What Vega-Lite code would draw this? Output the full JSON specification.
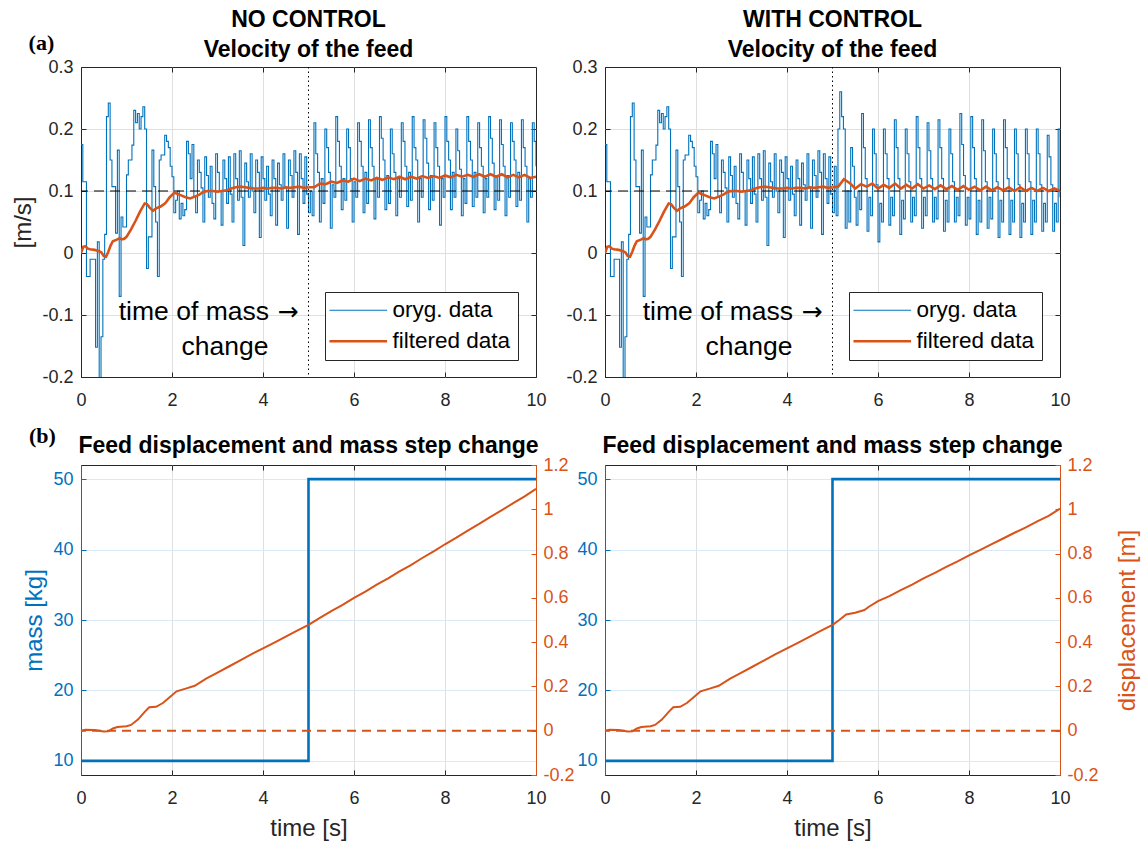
{
  "$schema": "https://vega.github.io/schema/vega-lite/v6.json",
  "background": "white",
  "padding": {"left": 10, "top": 8, "right": 4, "bottom": 4},
  "columns": 2,
  "spacing": {"row": 88, "column": 69},
  "bounds": "flush",
  "resolve": {"scale": {"x": "independent", "y": "independent", "color": "independent", "strokeWidth": "independent"}},
  "datasets": {
    "vel_raw_a": [
      {"t":0,"v":0.175},{"t":0.04,"v":0.115},{"t":0.08,"v":0.115},{"t":0.12,"v":-0.038},{"t":0.16,"v":-0.038},{"t":0.2,"v":-0.01},{"t":0.24,"v":-0.01},{"t":0.28,"v":-0.01},{"t":0.32,"v":-0.152},{"t":0.36,"v":0.018},{"t":0.4,"v":-0.21},{"t":0.44,"v":-0.135},{"t":0.48,"v":-0.01},{"t":0.52,"v":0.03},{"t":0.56,"v":0.22},{"t":0.6,"v":0.242},{"t":0.64,"v":0.15},{"t":0.68,"v":0.107},{"t":0.72,"v":0.107},{"t":0.76,"v":0.032},{"t":0.8,"v":0.166},{"t":0.84,"v":-0.07},{"t":0.88,"v":0.058},{"t":0.92,"v":0.042},{"t":0.96,"v":0.042},
      {"t":1.0,"v":0.126},{"t":1.04,"v":0.15},{"t":1.08,"v":0.15},{"t":1.12,"v":0.174},{"t":1.16,"v":0.23},{"t":1.2,"v":0.21},{"t":1.24,"v":0.225},{"t":1.28,"v":0.2},{"t":1.32,"v":0.22},{"t":1.36,"v":0.236},{"t":1.4,"v":0.2},{"t":1.44,"v":-0.025},{"t":1.48,"v":0.026},{"t":1.52,"v":0.026},{"t":1.56,"v":0.166},{"t":1.6,"v":0.107},{"t":1.64,"v":0.05},{"t":1.68,"v":-0.038},{"t":1.72,"v":0.15},{"t":1.76,"v":0.158},{"t":1.8,"v":0.158},{"t":1.84,"v":0.19},{"t":1.88,"v":0.18},{"t":1.92,"v":0.17},{"t":1.96,"v":0.14},
      {"t":2.0,"v":0.123},{"t":2.04,"v":0.065},{"t":2.08,"v":0.085},{"t":2.12,"v":0.1},{"t":2.16,"v":0.055},{"t":2.2,"v":0.08},{"t":2.24,"v":0.06},{"t":2.28,"v":0.07},{"t":2.32,"v":0.18},{"t":2.36,"v":0.16},{"t":2.4,"v":0.12},{"t":2.44,"v":0.175},{"t":2.48,"v":0.09},{"t":2.52,"v":0.065},{"t":2.56,"v":0.15},{"t":2.6,"v":0.13},{"t":2.64,"v":0.105},{"t":2.68,"v":0.05},{"t":2.72,"v":0.155},{"t":2.76,"v":0.125},{"t":2.8,"v":0.09},{"t":2.84,"v":0.14},{"t":2.88,"v":0.08},{"t":2.92,"v":0.055},{"t":2.96,"v":0.16},
      {"t":3.0,"v":0.13},{"t":3.04,"v":0.1},{"t":3.08,"v":0.045},{"t":3.12,"v":0.15},{"t":3.16,"v":0.12},{"t":3.2,"v":0.08},{"t":3.24,"v":0.155},{"t":3.28,"v":0.095},{"t":3.32,"v":0.05},{"t":3.36,"v":0.16},{"t":3.4,"v":0.12},{"t":3.44,"v":0.085},{"t":3.48,"v":0.165},{"t":3.52,"v":0.09},{"t":3.56,"v":0.012},{"t":3.6,"v":0.145},{"t":3.64,"v":0.115},{"t":3.68,"v":0.09},{"t":3.72,"v":0.16},{"t":3.76,"v":0.1},{"t":3.8,"v":0.065},{"t":3.84,"v":0.15},{"t":3.88,"v":0.13},{"t":3.92,"v":0.025},{"t":3.96,"v":0.155},
      {"t":4.0,"v":0.12},{"t":4.04,"v":0.085},{"t":4.08,"v":0.14},{"t":4.12,"v":0.095},{"t":4.16,"v":0.06},{"t":4.2,"v":0.15},{"t":4.24,"v":0.12},{"t":4.28,"v":0.045},{"t":4.32,"v":0.145},{"t":4.36,"v":0.11},{"t":4.4,"v":0.085},{"t":4.44,"v":0.16},{"t":4.48,"v":0.105},{"t":4.52,"v":0.04},{"t":4.56,"v":0.15},{"t":4.6,"v":0.125},{"t":4.64,"v":0.09},{"t":4.68,"v":0.165},{"t":4.72,"v":0.13},{"t":4.76,"v":0.03},{"t":4.8,"v":0.16},{"t":4.84,"v":0.12},{"t":4.88,"v":0.08},{"t":4.92,"v":0.155},{"t":4.96,"v":0.095},{"t":5.0,"v":0.065}
    ],
    "vel_raw_nc": [
      {"t":5.0,"v":0.065},{"t":5.04,"v":0.1},{"t":5.08,"v":0.06},{"t":5.12,"v":0.21},{"t":5.16,"v":0.16},{"t":5.2,"v":0.13},{"t":5.24,"v":0.05},{"t":5.28,"v":0.12},{"t":5.32,"v":0.08},{"t":5.36,"v":0.2},{"t":5.4,"v":0.17},{"t":5.44,"v":0.13},{"t":5.48,"v":0.04},{"t":5.52,"v":0.11},{"t":5.56,"v":0.09},{"t":5.6,"v":0.22},{"t":5.64,"v":0.18},{"t":5.68,"v":0.14},{"t":5.72,"v":0.07},{"t":5.76,"v":0.12},{"t":5.8,"v":0.085},{"t":5.84,"v":0.2},{"t":5.88,"v":0.17},{"t":5.92,"v":0.12},{"t":5.96,"v":0.05},
      {"t":6.0,"v":0.115},{"t":6.04,"v":0.09},{"t":6.08,"v":0.21},{"t":6.12,"v":0.18},{"t":6.16,"v":0.14},{"t":6.2,"v":0.065},{"t":6.24,"v":0.13},{"t":6.28,"v":0.08},{"t":6.32,"v":0.215},{"t":6.36,"v":0.17},{"t":6.4,"v":0.14},{"t":6.44,"v":0.055},{"t":6.48,"v":0.12},{"t":6.52,"v":0.09},{"t":6.56,"v":0.22},{"t":6.6,"v":0.185},{"t":6.64,"v":0.15},{"t":6.68,"v":0.07},{"t":6.72,"v":0.125},{"t":6.76,"v":0.08},{"t":6.8,"v":0.2},{"t":6.84,"v":0.16},{"t":6.88,"v":0.13},{"t":6.92,"v":0.06},{"t":6.96,"v":0.12},
      {"t":7.0,"v":0.09},{"t":7.04,"v":0.21},{"t":7.08,"v":0.18},{"t":7.12,"v":0.14},{"t":7.16,"v":0.075},{"t":7.2,"v":0.13},{"t":7.24,"v":0.085},{"t":7.28,"v":0.22},{"t":7.32,"v":0.17},{"t":7.36,"v":0.15},{"t":7.4,"v":0.05},{"t":7.44,"v":0.12},{"t":7.48,"v":0.09},{"t":7.52,"v":0.215},{"t":7.56,"v":0.185},{"t":7.6,"v":0.145},{"t":7.64,"v":0.07},{"t":7.68,"v":0.125},{"t":7.72,"v":0.085},{"t":7.76,"v":0.21},{"t":7.8,"v":0.17},{"t":7.84,"v":0.14},{"t":7.88,"v":0.045},{"t":7.92,"v":0.12},{"t":7.96,"v":0.09},
      {"t":8.0,"v":0.22},{"t":8.04,"v":0.18},{"t":8.08,"v":0.15},{"t":8.12,"v":0.07},{"t":8.16,"v":0.13},{"t":8.2,"v":0.09},{"t":8.24,"v":0.2},{"t":8.28,"v":0.165},{"t":8.32,"v":0.135},{"t":8.36,"v":0.06},{"t":8.4,"v":0.12},{"t":8.44,"v":0.08},{"t":8.48,"v":0.22},{"t":8.52,"v":0.18},{"t":8.56,"v":0.15},{"t":8.6,"v":0.075},{"t":8.64,"v":0.13},{"t":8.68,"v":0.09},{"t":8.72,"v":0.21},{"t":8.76,"v":0.17},{"t":8.8,"v":0.14},{"t":8.84,"v":0.065},{"t":8.88,"v":0.12},{"t":8.92,"v":0.09},{"t":8.96,"v":0.22},
      {"t":9.0,"v":0.185},{"t":9.04,"v":0.145},{"t":9.08,"v":0.07},{"t":9.12,"v":0.125},{"t":9.16,"v":0.085},{"t":9.2,"v":0.215},{"t":9.24,"v":0.175},{"t":9.28,"v":0.14},{"t":9.32,"v":0.06},{"t":9.36,"v":0.125},{"t":9.4,"v":0.09},{"t":9.44,"v":0.21},{"t":9.48,"v":0.18},{"t":9.52,"v":0.15},{"t":9.56,"v":0.075},{"t":9.6,"v":0.13},{"t":9.64,"v":0.085},{"t":9.68,"v":0.215},{"t":9.72,"v":0.17},{"t":9.76,"v":0.14},{"t":9.8,"v":0.05},{"t":9.84,"v":0.12},{"t":9.88,"v":0.09},{"t":9.92,"v":0.21},{"t":9.96,"v":0.18},{"t":10.0,"v":0.14}
    ],
    "vel_raw_wc": [
      {"t":5.0,"v":0.065},{"t":5.04,"v":0.14},{"t":5.08,"v":0.06},{"t":5.12,"v":0.2},{"t":5.16,"v":0.26},{"t":5.2,"v":0.22},{"t":5.24,"v":0.2},{"t":5.28,"v":0.04},{"t":5.32,"v":0.1},{"t":5.36,"v":0.05},{"t":5.4,"v":0.17},{"t":5.44,"v":0.14},{"t":5.48,"v":0.09},{"t":5.52,"v":0.045},{"t":5.56,"v":0.1},{"t":5.6,"v":0.07},{"t":5.64,"v":0.225},{"t":5.68,"v":0.17},{"t":5.72,"v":0.12},{"t":5.76,"v":0.035},{"t":5.8,"v":0.09},{"t":5.84,"v":0.06},{"t":5.88,"v":0.2},{"t":5.92,"v":0.16},{"t":5.96,"v":0.11},
      {"t":6.0,"v":0.018},{"t":6.04,"v":0.08},{"t":6.08,"v":0.05},{"t":6.12,"v":0.2},{"t":6.16,"v":0.16},{"t":6.2,"v":0.12},{"t":6.24,"v":0.045},{"t":6.28,"v":0.09},{"t":6.32,"v":0.06},{"t":6.36,"v":0.215},{"t":6.4,"v":0.17},{"t":6.44,"v":0.12},{"t":6.48,"v":0.03},{"t":6.52,"v":0.085},{"t":6.56,"v":0.055},{"t":6.6,"v":0.2},{"t":6.64,"v":0.16},{"t":6.68,"v":0.115},{"t":6.72,"v":0.05},{"t":6.76,"v":0.09},{"t":6.8,"v":0.06},{"t":6.84,"v":0.22},{"t":6.88,"v":0.17},{"t":6.92,"v":0.12},{"t":6.96,"v":0.04},
      {"t":7.0,"v":0.09},{"t":7.04,"v":0.06},{"t":7.08,"v":0.21},{"t":7.12,"v":0.165},{"t":7.16,"v":0.12},{"t":7.2,"v":0.05},{"t":7.24,"v":0.09},{"t":7.28,"v":0.055},{"t":7.32,"v":0.215},{"t":7.36,"v":0.17},{"t":7.4,"v":0.12},{"t":7.44,"v":0.035},{"t":7.48,"v":0.085},{"t":7.52,"v":0.05},{"t":7.56,"v":0.2},{"t":7.6,"v":0.16},{"t":7.64,"v":0.115},{"t":7.68,"v":0.05},{"t":7.72,"v":0.09},{"t":7.76,"v":0.06},{"t":7.8,"v":0.225},{"t":7.84,"v":0.175},{"t":7.88,"v":0.125},{"t":7.92,"v":0.045},{"t":7.96,"v":0.09},
      {"t":8.0,"v":0.055},{"t":8.04,"v":0.22},{"t":8.08,"v":0.17},{"t":8.12,"v":0.12},{"t":8.16,"v":0.03},{"t":8.2,"v":0.085},{"t":8.24,"v":0.05},{"t":8.28,"v":0.215},{"t":8.32,"v":0.165},{"t":8.36,"v":0.115},{"t":8.4,"v":0.04},{"t":8.44,"v":0.09},{"t":8.48,"v":0.055},{"t":8.52,"v":0.2},{"t":8.56,"v":0.16},{"t":8.6,"v":0.115},{"t":8.64,"v":0.025},{"t":8.68,"v":0.085},{"t":8.72,"v":0.05},{"t":8.76,"v":0.215},{"t":8.8,"v":0.17},{"t":8.84,"v":0.12},{"t":8.88,"v":0.03},{"t":8.92,"v":0.085},{"t":8.96,"v":0.05},
      {"t":9.0,"v":0.2},{"t":9.04,"v":0.16},{"t":9.08,"v":0.11},{"t":9.12,"v":0.025},{"t":9.16,"v":0.08},{"t":9.2,"v":0.05},{"t":9.24,"v":0.2},{"t":9.28,"v":0.16},{"t":9.32,"v":0.115},{"t":9.36,"v":0.03},{"t":9.4,"v":0.085},{"t":9.44,"v":0.05},{"t":9.48,"v":0.2},{"t":9.52,"v":0.16},{"t":9.56,"v":0.11},{"t":9.6,"v":0.035},{"t":9.64,"v":0.08},{"t":9.68,"v":0.05},{"t":9.72,"v":0.19},{"t":9.76,"v":0.155},{"t":9.8,"v":0.11},{"t":9.84,"v":0.035},{"t":9.88,"v":0.08},{"t":9.92,"v":0.05},{"t":9.96,"v":0.2},{"t":10.0,"v":0.09}
    ],
    "vel_filt_a": [
      {"t":0,"v":0},{"t":0.05,"v":0.01},{"t":0.1,"v":0.011},{"t":0.15,"v":0.007},{"t":0.2,"v":0.006},{"t":0.3,"v":0.005},{"t":0.4,"v":0.003},{"t":0.45,"v":0.001},{"t":0.5,"v":-0.005},{"t":0.55,"v":-0.006},{"t":0.6,"v":0.002},{"t":0.65,"v":0.012},{"t":0.7,"v":0.019},{"t":0.8,"v":0.022},{"t":0.85,"v":0.024},{"t":0.9,"v":0.022},{"t":0.95,"v":0.023},{"t":1.0,"v":0.026},{"t":1.1,"v":0.038},{"t":1.2,"v":0.052},{"t":1.3,"v":0.067},{"t":1.4,"v":0.08},{"t":1.45,"v":0.079},{"t":1.5,"v":0.074},{"t":1.58,"v":0.068},{"t":1.65,"v":0.072},{"t":1.75,"v":0.075},{"t":1.85,"v":0.08},{"t":1.95,"v":0.09},{"t":2.05,"v":0.097},{"t":2.1,"v":0.096},{"t":2.2,"v":0.093},{"t":2.3,"v":0.09},{"t":2.4,"v":0.088},{"t":2.5,"v":0.091},{"t":2.6,"v":0.094},{"t":2.7,"v":0.099},{"t":2.8,"v":0.1},{"t":2.9,"v":0.1},{"t":3.0,"v":0.099},{"t":3.1,"v":0.1},{"t":3.2,"v":0.101},{"t":3.3,"v":0.104},{"t":3.4,"v":0.106},{"t":3.5,"v":0.107},{"t":3.6,"v":0.106},{"t":3.7,"v":0.105},{"t":3.8,"v":0.104},{"t":3.9,"v":0.104},{"t":4.0,"v":0.105},{"t":4.1,"v":0.104},{"t":4.2,"v":0.105},{"t":4.3,"v":0.105},{"t":4.4,"v":0.104},{"t":4.5,"v":0.106},{"t":4.6,"v":0.105},{"t":4.7,"v":0.106},{"t":4.8,"v":0.107},{"t":4.9,"v":0.105},{"t":5.0,"v":0.106}
    ],
    "vel_filt_nc": [
      {"t":5.0,"v":0.106},{"t":5.125,"v":0.106},{"t":5.25,"v":0.112},{"t":5.375,"v":0.111},{"t":5.5,"v":0.115},{"t":5.625,"v":0.113},{"t":5.75,"v":0.117},{"t":5.875,"v":0.115},{"t":6.0,"v":0.12},{"t":6.125,"v":0.116},{"t":6.25,"v":0.12},{"t":6.375,"v":0.117},{"t":6.5,"v":0.121},{"t":6.625,"v":0.118},{"t":6.75,"v":0.122},{"t":6.875,"v":0.119},{"t":7.0,"v":0.123},{"t":7.125,"v":0.119},{"t":7.25,"v":0.123},{"t":7.375,"v":0.12},{"t":7.5,"v":0.124},{"t":7.625,"v":0.121},{"t":7.75,"v":0.124},{"t":7.875,"v":0.121},{"t":8.0,"v":0.125},{"t":8.125,"v":0.122},{"t":8.25,"v":0.126},{"t":8.375,"v":0.123},{"t":8.5,"v":0.126},{"t":8.625,"v":0.123},{"t":8.75,"v":0.127},{"t":8.875,"v":0.123},{"t":9.0,"v":0.127},{"t":9.125,"v":0.123},{"t":9.25,"v":0.127},{"t":9.375,"v":0.122},{"t":9.5,"v":0.126},{"t":9.625,"v":0.122},{"t":9.75,"v":0.126},{"t":9.875,"v":0.121},{"t":10.0,"v":0.123}
    ],
    "vel_filt_wc": [
      {"t":5.0,"v":0.106},{"t":5.125,"v":0.107},{"t":5.25,"v":0.119},{"t":5.375,"v":0.113},{"t":5.5,"v":0.104},{"t":5.625,"v":0.111},{"t":5.75,"v":0.107},{"t":5.875,"v":0.112},{"t":6.0,"v":0.104},{"t":6.125,"v":0.11},{"t":6.25,"v":0.105},{"t":6.375,"v":0.112},{"t":6.5,"v":0.104},{"t":6.625,"v":0.11},{"t":6.75,"v":0.104},{"t":6.875,"v":0.111},{"t":7.0,"v":0.104},{"t":7.125,"v":0.109},{"t":7.25,"v":0.103},{"t":7.375,"v":0.109},{"t":7.5,"v":0.103},{"t":7.625,"v":0.108},{"t":7.75,"v":0.102},{"t":7.875,"v":0.108},{"t":8.0,"v":0.102},{"t":8.125,"v":0.107},{"t":8.25,"v":0.101},{"t":8.375,"v":0.107},{"t":8.5,"v":0.101},{"t":8.625,"v":0.106},{"t":8.75,"v":0.101},{"t":8.875,"v":0.106},{"t":9.0,"v":0.1},{"t":9.125,"v":0.106},{"t":9.25,"v":0.1},{"t":9.375,"v":0.105},{"t":9.5,"v":0.1},{"t":9.625,"v":0.105},{"t":9.75,"v":0.1},{"t":9.875,"v":0.104},{"t":10.0,"v":0.1}
    ],
    "mass": [
      {"t":0,"m":10},{"t":5,"m":50},{"t":10,"m":50}
    ],
    "disp_a": [
      {"t":0,"d":0},{"t":0.1,"d":0.004},{"t":0.3,"d":0.003},{"t":0.5,"d":-0.004},{"t":0.6,"d":-0.003},{"t":0.7,"d":0.01},{"t":0.8,"d":0.017},{"t":1.0,"d":0.02},{"t":1.1,"d":0.026},{"t":1.25,"d":0.05},{"t":1.4,"d":0.085},{"t":1.5,"d":0.106},{"t":1.65,"d":0.108},{"t":1.8,"d":0.125},{"t":2.0,"d":0.16},{"t":2.1,"d":0.178},{"t":2.3,"d":0.19},{"t":2.5,"d":0.203},{"t":2.75,"d":0.235},{"t":3.0,"d":0.262},{"t":3.25,"d":0.29},{"t":3.5,"d":0.318},{"t":3.75,"d":0.346},{"t":4.0,"d":0.372},{"t":4.25,"d":0.398},{"t":4.5,"d":0.425},{"t":4.75,"d":0.452},{"t":5.0,"d":0.478}
    ],
    "disp_nc": [
      {"t":5.0,"d":0.478},{"t":5.25,"d":0.51},{"t":5.5,"d":0.54},{"t":5.75,"d":0.568},{"t":6.0,"d":0.6},{"t":6.25,"d":0.628},{"t":6.5,"d":0.66},{"t":6.75,"d":0.688},{"t":7.0,"d":0.72},{"t":7.25,"d":0.748},{"t":7.5,"d":0.78},{"t":7.75,"d":0.81},{"t":8.0,"d":0.842},{"t":8.25,"d":0.872},{"t":8.5,"d":0.904},{"t":8.75,"d":0.934},{"t":9.0,"d":0.966},{"t":9.25,"d":0.996},{"t":9.5,"d":1.028},{"t":9.75,"d":1.058},{"t":10.0,"d":1.092}
    ],
    "disp_wc": [
      {"t":5.0,"d":0.478},{"t":5.15,"d":0.5},{"t":5.3,"d":0.525},{"t":5.5,"d":0.533},{"t":5.7,"d":0.545},{"t":5.8,"d":0.56},{"t":6.0,"d":0.585},{"t":6.25,"d":0.608},{"t":6.5,"d":0.635},{"t":6.75,"d":0.66},{"t":7.0,"d":0.688},{"t":7.25,"d":0.713},{"t":7.5,"d":0.74},{"t":7.75,"d":0.765},{"t":8.0,"d":0.792},{"t":8.25,"d":0.817},{"t":8.5,"d":0.843},{"t":8.75,"d":0.868},{"t":9.0,"d":0.894},{"t":9.25,"d":0.918},{"t":9.5,"d":0.945},{"t":9.75,"d":0.97},{"t":10.0,"d":1.003}
    ]
  },
  "concat": [
    {
      "width": 455,
      "height": 310,
      "title": {"text": ["NO CONTROL", "Velocity of the feed"], "offset": -30},
      "layer": [
        {
          "data": {"name": "vel_raw_a"},
          "mark": {"type": "line", "interpolate": "step-after", "clip": true},
          "encoding": {
            "x": {"field": "t", "type": "quantitative", "scale": {"domain": [0, 10]}, "axis": {"orient": "bottom", "values": [0, 2, 4, 6, 8, 10], "title": null, "labelPadding": 19}},
            "y": {"field": "v", "type": "quantitative", "scale": {"domain": [-0.2, 0.3]}, "axis": {"orient": "left", "values": [-0.2, -0.1, 0, 0.1, 0.2, 0.3], "title": "[m/s]", "titleX": -58, "titleBaseline": "middle", "labelPadding": 13, "labelExpr": "replace(format(datum.value, '.2~f'), '\u2212', '-')"}},
            "color": {"datum": "oryg. data", "type": "nominal", "scale": {"domain": ["oryg. data", "filtered data"], "range": ["#0072BD", "#D95319"]}, "legend": {"orient": "none", "legendX": 244, "legendY": 225, "title": null, "symbolType": "M-6.4,0H6.4", "symbolSize": 81, "symbolOffset": 15, "labelOffset": 23, "labelFontSize": 22.5, "labelColor": "#000000", "strokeColor": "#262626", "fillColor": "#ffffff", "padding": 7, "rowPadding": 8, "labelLimit": 400}},
            "strokeWidth": {"datum": "oryg. data", "type": "nominal", "scale": {"domain": ["oryg. data", "filtered data"], "range": [1.1, 2.6]}}
          }
        },
        {
          "data": {"name": "vel_raw_nc"},
          "mark": {"type": "line", "interpolate": "step-after", "clip": true},
          "encoding": {
            "x": {"field": "t", "type": "quantitative", "scale": {"domain": [0, 10]}, "axis": null},
            "y": {"field": "v", "type": "quantitative", "scale": {"domain": [-0.2, 0.3]}, "axis": null},
            "color": {"datum": "oryg. data", "type": "nominal"},
            "strokeWidth": {"datum": "oryg. data", "type": "nominal"}
          }
        },
        {
          "data": {"values": [{}]},
          "mark": {"type": "rule", "color": "#000000", "strokeWidth": 1, "strokeDash": [10, 6]},
          "encoding": {
            "y": {"datum": 0.1, "type": "quantitative", "scale": {"domain": [-0.2, 0.3]}, "axis": {"orient": "right", "values": [-0.1, 0, 0.1, 0.2], "labels": false, "title": null, "grid": true}}
          }
        },
        {
          "data": {"values": [{}]},
          "mark": {"type": "rule", "color": "#000000", "strokeWidth": 1, "strokeDash": [1.5, 3]},
          "encoding": {
            "x": {"datum": 5, "type": "quantitative", "scale": {"domain": [0, 10]}, "axis": {"orient": "top", "values": [2, 4, 6, 8], "labels": false, "title": null, "grid": true}}
          }
        },
        {
          "data": {"name": "vel_filt_a"},
          "mark": {"type": "line", "clip": true},
          "encoding": {
            "x": {"field": "t", "type": "quantitative", "scale": {"domain": [0, 10]}, "axis": null},
            "y": {"field": "v", "type": "quantitative", "scale": {"domain": [-0.2, 0.3]}, "axis": null},
            "color": {"datum": "filtered data", "type": "nominal"},
            "strokeWidth": {"datum": "filtered data", "type": "nominal"}
          }
        },
        {
          "data": {"name": "vel_filt_nc"},
          "mark": {"type": "line", "clip": true},
          "encoding": {
            "x": {"field": "t", "type": "quantitative", "scale": {"domain": [0, 10]}, "axis": null},
            "y": {"field": "v", "type": "quantitative", "scale": {"domain": [-0.2, 0.3]}, "axis": null},
            "color": {"datum": "filtered data", "type": "nominal"},
            "strokeWidth": {"datum": "filtered data", "type": "nominal"}
          }
        },
        {
          "data": {"values": [{"label": "(a)"}]},
          "mark": {"type": "text", "font": "Liberation Serif", "fontSize": 22, "fontWeight": "bold", "align": "center", "baseline": "middle", "color": "#000000"},
          "encoding": {
            "x": {"datum": -0.87, "type": "quantitative", "scale": {"domain": [0, 10]}, "axis": null},
            "y": {"datum": 0.339, "type": "quantitative", "scale": {"domain": [-0.2, 0.3]}, "axis": null},
            "text": {"field": "label"}
          }
        },
        {
          "data": {"values": [{"label": "time of mass", "t": 2.48, "v": -0.095}, {"label": "change", "t": 3.165, "v": -0.1516}]},
          "mark": {"type": "text", "fontSize": 26.5, "align": "center", "baseline": "middle", "color": "#000000"},
          "encoding": {
            "x": {"field": "t", "type": "quantitative", "scale": {"domain": [0, 10]}, "axis": null},
            "y": {"field": "v", "type": "quantitative", "scale": {"domain": [-0.2, 0.3]}, "axis": null},
            "text": {"field": "label"}
          }
        },
        {
          "data": {"values": [{"label": "\u2192", "t": 4.55, "v": -0.095}]},
          "mark": {"type": "text", "font": "DejaVu Sans", "fontSize": 25, "align": "center", "baseline": "middle", "color": "#000000"},
          "encoding": {
            "x": {"field": "t", "type": "quantitative", "scale": {"domain": [0, 10]}, "axis": null},
            "y": {"field": "v", "type": "quantitative", "scale": {"domain": [-0.2, 0.3]}, "axis": null},
            "text": {"field": "label"}
          }
        }
      ]
    },
    {
      "width": 455,
      "height": 310,
      "title": {"text": ["WITH CONTROL", "Velocity of the feed"], "offset": -4},
      "layer": [
        {
          "data": {"name": "vel_raw_a"},
          "mark": {"type": "line", "interpolate": "step-after", "clip": true},
          "encoding": {
            "x": {"field": "t", "type": "quantitative", "scale": {"domain": [0, 10]}, "axis": {"orient": "bottom", "values": [0, 2, 4, 6, 8, 10], "title": null, "labelPadding": 19}},
            "y": {"field": "v", "type": "quantitative", "scale": {"domain": [-0.2, 0.3]}, "axis": {"orient": "left", "values": [-0.2, -0.1, 0, 0.1, 0.2, 0.3], "title": null, "labelPadding": 13, "labelExpr": "replace(format(datum.value, '.2~f'), '\u2212', '-')"}},
            "color": {"datum": "oryg. data", "type": "nominal", "scale": {"domain": ["oryg. data", "filtered data"], "range": ["#0072BD", "#D95319"]}, "legend": {"orient": "none", "legendX": 244, "legendY": 225, "title": null, "symbolType": "M-6.4,0H6.4", "symbolSize": 81, "symbolOffset": 15, "labelOffset": 23, "labelFontSize": 22.5, "labelColor": "#000000", "strokeColor": "#262626", "fillColor": "#ffffff", "padding": 7, "rowPadding": 8, "labelLimit": 400}},
            "strokeWidth": {"datum": "oryg. data", "type": "nominal", "scale": {"domain": ["oryg. data", "filtered data"], "range": [1.1, 2.6]}}
          }
        },
        {
          "data": {"name": "vel_raw_wc"},
          "mark": {"type": "line", "interpolate": "step-after", "clip": true},
          "encoding": {
            "x": {"field": "t", "type": "quantitative", "scale": {"domain": [0, 10]}, "axis": null},
            "y": {"field": "v", "type": "quantitative", "scale": {"domain": [-0.2, 0.3]}, "axis": null},
            "color": {"datum": "oryg. data", "type": "nominal"},
            "strokeWidth": {"datum": "oryg. data", "type": "nominal"}
          }
        },
        {
          "data": {"values": [{}]},
          "mark": {"type": "rule", "color": "#000000", "strokeWidth": 1, "strokeDash": [10, 6]},
          "encoding": {
            "y": {"datum": 0.1, "type": "quantitative", "scale": {"domain": [-0.2, 0.3]}, "axis": {"orient": "right", "values": [-0.1, 0, 0.1, 0.2], "labels": false, "title": null, "grid": true}}
          }
        },
        {
          "data": {"values": [{}]},
          "mark": {"type": "rule", "color": "#000000", "strokeWidth": 1, "strokeDash": [1.5, 3]},
          "encoding": {
            "x": {"datum": 5, "type": "quantitative", "scale": {"domain": [0, 10]}, "axis": {"orient": "top", "values": [2, 4, 6, 8], "labels": false, "title": null, "grid": true}}
          }
        },
        {
          "data": {"name": "vel_filt_a"},
          "mark": {"type": "line", "clip": true},
          "encoding": {
            "x": {"field": "t", "type": "quantitative", "scale": {"domain": [0, 10]}, "axis": null},
            "y": {"field": "v", "type": "quantitative", "scale": {"domain": [-0.2, 0.3]}, "axis": null},
            "color": {"datum": "filtered data", "type": "nominal"},
            "strokeWidth": {"datum": "filtered data", "type": "nominal"}
          }
        },
        {
          "data": {"name": "vel_filt_wc"},
          "mark": {"type": "line", "clip": true},
          "encoding": {
            "x": {"field": "t", "type": "quantitative", "scale": {"domain": [0, 10]}, "axis": null},
            "y": {"field": "v", "type": "quantitative", "scale": {"domain": [-0.2, 0.3]}, "axis": null},
            "color": {"datum": "filtered data", "type": "nominal"},
            "strokeWidth": {"datum": "filtered data", "type": "nominal"}
          }
        },
        {
          "data": {"values": [{"label": "time of mass", "t": 2.48, "v": -0.095}, {"label": "change", "t": 3.165, "v": -0.1516}]},
          "mark": {"type": "text", "fontSize": 26.5, "align": "center", "baseline": "middle", "color": "#000000"},
          "encoding": {
            "x": {"field": "t", "type": "quantitative", "scale": {"domain": [0, 10]}, "axis": null},
            "y": {"field": "v", "type": "quantitative", "scale": {"domain": [-0.2, 0.3]}, "axis": null},
            "text": {"field": "label"}
          }
        },
        {
          "data": {"values": [{"label": "\u2192", "t": 4.55, "v": -0.095}]},
          "mark": {"type": "text", "font": "DejaVu Sans", "fontSize": 25, "align": "center", "baseline": "middle", "color": "#000000"},
          "encoding": {
            "x": {"field": "t", "type": "quantitative", "scale": {"domain": [0, 10]}, "axis": null},
            "y": {"field": "v", "type": "quantitative", "scale": {"domain": [-0.2, 0.3]}, "axis": null},
            "text": {"field": "label"}
          }
        }
      ]
    },
    {
      "width": 455,
      "height": 310,
      "title": {"text": "Feed displacement and mass step change", "offset": -33},
      "resolve": {"scale": {"y": "independent"}},
      "layer": [
        {
          "data": {"name": "mass"},
          "mark": {"type": "line", "interpolate": "step-after", "color": "#0072BD", "strokeWidth": 2.6},
          "encoding": {
            "x": {"field": "t", "type": "quantitative", "scale": {"domain": [0, 10]}, "axis": {"orient": "bottom", "values": [0, 2, 4, 6, 8, 10], "title": "time [s]", "titleY": 60, "titleBaseline": "alphabetic", "labelPadding": 19}},
            "y": {"field": "m", "type": "quantitative", "scale": {"domain": [8, 52]}, "axis": {"orient": "left", "values": [10, 20, 30, 40, 50], "grid": true, "gridColor": "#d9e9f5", "labelColor": "#0072BD", "tickColor": "#0072BD", "domain": true, "domainColor": "#0072BD", "title": "mass [kg]", "titleColor": "#0072BD", "titleX": -47, "titleBaseline": "middle", "labelPadding": 13}}
          }
        },
        {
          "data": {"values": [{}]},
          "mark": {"type": "rule", "color": "#D95319", "strokeWidth": 2, "strokeDash": [9, 6]},
          "encoding": {
            "y": {"datum": 0, "type": "quantitative", "scale": {"domain": [-0.2, 1.2]}, "axis": {"orient": "right", "values": [-0.2, 0, 0.2, 0.4, 0.6, 0.8, 1, 1.2], "labelColor": "#D95319", "tickColor": "#D95319", "domain": true, "domainColor": "#D95319", "title": null, "labelPadding": 12, "labelExpr": "replace(format(datum.value, '.2~f'), '\u2212', '-')"}}
          }
        },
        {
          "data": {"name": "disp_a"},
          "mark": {"type": "line", "color": "#D95319", "strokeWidth": 2},
          "encoding": {
            "x": {"field": "t", "type": "quantitative", "scale": {"domain": [0, 10]}, "axis": {"orient": "top", "values": [2, 4, 6, 8], "labels": false, "title": null, "grid": true}},
            "y": {"field": "d", "type": "quantitative", "scale": {"domain": [-0.2, 1.2]}, "axis": null}
          }
        },
        {
          "data": {"name": "disp_nc"},
          "mark": {"type": "line", "color": "#D95319", "strokeWidth": 2},
          "encoding": {
            "x": {"field": "t", "type": "quantitative", "scale": {"domain": [0, 10]}, "axis": null},
            "y": {"field": "d", "type": "quantitative", "scale": {"domain": [-0.2, 1.2]}, "axis": null}
          }
        },
        {
          "data": {"values": [{"label": "(b)"}]},
          "mark": {"type": "text", "font": "Liberation Serif", "fontSize": 22, "fontWeight": "bold", "align": "center", "baseline": "middle", "color": "#000000"},
          "encoding": {
            "x": {"datum": -0.85, "type": "quantitative", "scale": {"domain": [0, 10]}, "axis": null},
            "y": {"datum": 56.1, "type": "quantitative", "scale": {"domain": [8, 52]}, "axis": null},
            "text": {"field": "label"}
          }
        }
      ]
    },
    {
      "width": 455,
      "height": 310,
      "title": {"text": "Feed displacement and mass step change", "offset": -2},
      "resolve": {"scale": {"y": "independent"}},
      "layer": [
        {
          "data": {"name": "mass"},
          "mark": {"type": "line", "interpolate": "step-after", "color": "#0072BD", "strokeWidth": 2.6},
          "encoding": {
            "x": {"field": "t", "type": "quantitative", "scale": {"domain": [0, 10]}, "axis": {"orient": "bottom", "values": [0, 2, 4, 6, 8, 10], "title": "time [s]", "titleY": 60, "titleBaseline": "alphabetic", "labelPadding": 19}},
            "y": {"field": "m", "type": "quantitative", "scale": {"domain": [8, 52]}, "axis": {"orient": "left", "values": [10, 20, 30, 40, 50], "grid": true, "gridColor": "#d9e9f5", "labelColor": "#0072BD", "tickColor": "#0072BD", "domain": true, "domainColor": "#0072BD", "title": null, "labelPadding": 13}}
          }
        },
        {
          "data": {"values": [{}]},
          "mark": {"type": "rule", "color": "#D95319", "strokeWidth": 2, "strokeDash": [9, 6]},
          "encoding": {
            "y": {"datum": 0, "type": "quantitative", "scale": {"domain": [-0.2, 1.2]}, "axis": {"orient": "right", "values": [-0.2, 0, 0.2, 0.4, 0.6, 0.8, 1, 1.2], "labelColor": "#D95319", "tickColor": "#D95319", "domain": true, "domainColor": "#D95319", "title": "displacement [m]", "titleColor": "#D95319", "titleAngle": 270, "titleX": 67, "titleBaseline": "middle", "labelPadding": 12, "labelExpr": "replace(format(datum.value, '.2~f'), '\u2212', '-')"}}
          }
        },
        {
          "data": {"name": "disp_a"},
          "mark": {"type": "line", "color": "#D95319", "strokeWidth": 2},
          "encoding": {
            "x": {"field": "t", "type": "quantitative", "scale": {"domain": [0, 10]}, "axis": {"orient": "top", "values": [2, 4, 6, 8], "labels": false, "title": null, "grid": true}},
            "y": {"field": "d", "type": "quantitative", "scale": {"domain": [-0.2, 1.2]}, "axis": null}
          }
        },
        {
          "data": {"name": "disp_wc"},
          "mark": {"type": "line", "color": "#D95319", "strokeWidth": 2},
          "encoding": {
            "x": {"field": "t", "type": "quantitative", "scale": {"domain": [0, 10]}, "axis": null},
            "y": {"field": "d", "type": "quantitative", "scale": {"domain": [-0.2, 1.2]}, "axis": null}
          }
        }
      ]
    }
  ],
  "config": {
    "font": "Liberation Sans",
    "view": {"stroke": "#262626", "strokeWidth": 1},
    "axis": {
      "labelFont": "Liberation Sans",
      "labelFontSize": 18,
      "labelColor": "#262626",
      "labelFlush": false,
      "labelOverlap": false,
      "tickColor": "#262626",
      "tickSize": -5,
      "tickWidth": 1,
      "domain": false,
      "grid": false,
      "gridColor": "#dfdfdf",
      "gridWidth": 1,
      "titleFont": "Liberation Sans",
      "titleFontSize": 24,
      "titleFontWeight": "normal",
      "titleColor": "#262626"
    },
    "title": {"font": "Liberation Sans", "fontSize": 23, "fontWeight": "bold", "color": "#000000", "anchor": "middle", "frame": "group", "lineHeight": 30}
  }
}
